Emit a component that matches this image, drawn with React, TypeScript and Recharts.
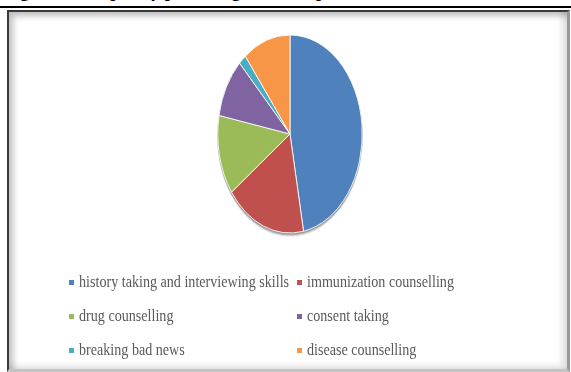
import React from 'react';
import { PieChart, Pie, Cell, Legend } from 'recharts';

// skill areas, % of respondents
const skills = [
  'history taking and interviewing skills',
  'immunization counselling',
  'drug counselling',
  'consent taking',
  'breaking bad news',
  'disease counselling',
];
const percents = [47, 18, 13, 9.7, 1.7, 10.6];
const colors = ['#4F81BD', '#C0504D', '#9BBB59', '#8064A2', '#4BACC6', '#F79646'];

const data = skills.map((name, i) => ({ name, value: percents[i] }));

const CX = 290;
const CY = 134;

// keep the legend in data order (recharts sorts the payload by name)
const LegendGrid = ({ payload }: any) => {
  const items = [...(payload || [])].sort(
    (a: any, b: any) => skills.indexOf(a.value) - skills.indexOf(b.value)
  );
  return (
    <div
      style={{
        display: 'grid',
        gridTemplateColumns: '228px 240px',
        rowGap: 14,
        paddingLeft: 69,
      }}
    >
      {items.map((entry: any, index: number) => (
        <div key={index} style={{ display: 'flex', alignItems: 'center', height: 20, whiteSpace: 'nowrap' }}>
          <span style={{ width: 5, height: 5, background: entry.color, marginRight: 5, flex: 'none' }} />
          <span
            style={{
              display: 'inline-block',
              fontFamily: '"Liberation Serif", serif',
              fontSize: 17,
              color: '#595959',
              transform: 'scaleX(0.83)',
              transformOrigin: 'left center',
            }}
          >
            {entry.value}
          </span>
        </div>
      ))}
    </div>
  );
};

export default function App() {
  return (
    <div style={{ position: 'absolute', left: 0, top: 0, width: 571, height: 372, overflow: 'hidden', background: '#fff' }}>
      <style>{`
        .recharts-pie { transform-origin: ${CX}px ${CY}px; transform: scaleX(0.73); filter: drop-shadow(0 2px 1px rgba(0,0,0,0.45)); }
      `}</style>
      {/* caption, mostly cut off at the top */}
      <div
        style={{
          position: 'absolute',
          left: 4,
          top: -19,
          fontFamily: '"Liberation Serif", serif',
          fontWeight: 'bold',
          fontSize: 18,
          whiteSpace: 'nowrap',
          lineHeight: '20px',
        }}
      >
        Figure 1: Frequency percentage of skills practiced
      </div>
      <div style={{ position: 'absolute', left: 0, top: 6, width: 571, height: 2, background: '#000' }} />
      <div
        style={{
          position: 'absolute',
          left: 7,
          top: 10,
          width: 558,
          height: 357,
          borderLeft: '2px solid #3a3a3a',
          borderTop: '2px solid #3a3a3a',
          borderRight: '3px solid #9a9a9a',
          borderBottom: '3px solid #c4c4c4',
          boxShadow: 'inset 4px 4px 6px rgba(0,0,0,0.25), inset -5px -3px 6px rgba(0,0,0,0.12)',
          background: '#fff',
        }}
      />
      <div style={{ position: 'absolute', left: 0, top: 0 }}>
        <PieChart width={571} height={372} margin={{ top: 0, right: 0, bottom: 0, left: 0 }}>
          <Pie
            data={data}
            dataKey="value"
            nameKey="name"
            cx={CX}
            cy={CY}
            outerRadius={99}
            startAngle={90}
            endAngle={-270}
            stroke="#ffffff"
            strokeWidth={1}
            isAnimationActive={false}
          >
            {data.map((d, i) => (
              <Cell key={d.name} fill={colors[i]} />
            ))}
          </Pie>
          <Legend
            content={<LegendGrid />}
            wrapperStyle={{ position: 'absolute', left: 0, top: 272, width: 571 }}
          />
        </PieChart>
      </div>
    </div>
  );
}
